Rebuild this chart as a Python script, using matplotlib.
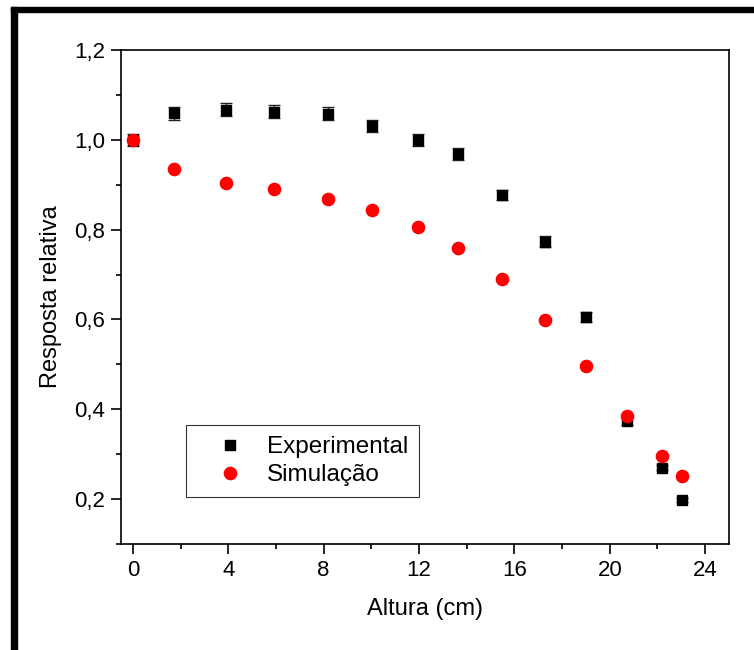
import matplotlib
matplotlib.use("Agg")
import matplotlib.pyplot as plt
from matplotlib.lines import Line2D
from matplotlib.patches import Rectangle
from matplotlib.ticker import MultipleLocator, FuncFormatter

plt.rcParams['font.family'] = ['Liberation Sans', 'DejaVu Sans']

# Data
altura_exp = [0, 1.72, 3.92, 5.9, 8.18, 10.04, 11.97, 13.63, 15.49, 17.3, 19.01, 20.71, 22.19, 23.02]
resp_exp = [1.0, 1.059, 1.067, 1.063, 1.058, 1.031, 1.0, 0.969, 0.877, 0.773, 0.606, 0.374, 0.270, 0.198]
err_exp = [0.014, 0.014, 0.014, 0.014, 0.014, 0.013, 0.013, 0.013, 0.012, 0.012, 0.011, 0.010, 0.006, 0.005]

altura_sim = [0, 1.72, 3.92, 5.9, 8.18, 10.04, 11.97, 13.63, 15.49, 17.3, 19.01, 20.71, 22.19, 23.02]
resp_sim = [1.0, 0.935, 0.904, 0.891, 0.868, 0.844, 0.806, 0.758, 0.689, 0.598, 0.496, 0.385, 0.296, 0.251]

xlabel = "Altura (cm)"
ylabel = "Resposta relativa"
labels = ["Experimental", "Simulação"]

W, H = 754, 650
fig = plt.figure(figsize=(W / 100, H / 100), dpi=100)
ax = fig.add_axes([121 / W, 1 - 544 / H, (729 - 121) / W, (544 - 50) / H])

ax.errorbar(altura_exp, resp_exp, yerr=err_exp, fmt='s', color='black', ms=7.5,
            ecolor='#222222', elinewidth=1.0, capsize=4.0, capthick=1.0, zorder=3)
ax.plot(altura_sim, resp_sim, 'o', color='#ff0000', ms=8.8, mec='#ff0000', zorder=4)

ax.set_xlim(-0.5, 25)
ax.set_ylim(0.1, 1.2)
ax.xaxis.set_major_locator(MultipleLocator(4))
ax.xaxis.set_minor_locator(MultipleLocator(2))
ax.yaxis.set_major_locator(MultipleLocator(0.2))
ax.yaxis.set_minor_locator(MultipleLocator(0.1))
ax.yaxis.set_major_formatter(FuncFormatter(lambda v, p: f"{v:.1f}".replace('.', ',')))
ax.xaxis.set_major_formatter(FuncFormatter(lambda v, p: f"{v:g}"))

for s in ax.spines.values():
    s.set_linewidth(1.2)
ax.tick_params(which='both', direction='out', top=False, right=False, width=1.2)
ax.tick_params(which='major', length=7, labelsize=16, pad=4.5)
ax.tick_params(which='minor', length=3.6)

ax.set_xlabel(xlabel, fontsize=17, labelpad=12)
ax.set_ylabel(ylabel, fontsize=17, labelpad=9)

handles = [Line2D([], [], ls='none', marker='s', color='black', ms=7.5),
           Line2D([], [], ls='none', marker='o', color='#ff0000', ms=8.8)]
leg = ax.legend(handles, labels, loc='lower left', bbox_to_anchor=(0.107, 0.095),
                borderaxespad=0, fontsize=17.5, frameon=True, fancybox=False,
                edgecolor='black', handlelength=2.75, handletextpad=0.12,
                borderpad=0.45, labelspacing=0.25)
leg.get_frame().set_linewidth(0.8)

# Black frame bars on left and top of the figure
fig.patches.append(Rectangle((11 / W, 0), 5.5 / W, (H - 7) / H, transform=fig.transFigure,
                             color='black', zorder=10))
fig.patches.append(Rectangle((11 / W, (H - 12.3) / H), (W - 11) / W, 5.3 / H,
                             transform=fig.transFigure, color='black', zorder=10))

fig.savefig("out.png", dpi=100)
